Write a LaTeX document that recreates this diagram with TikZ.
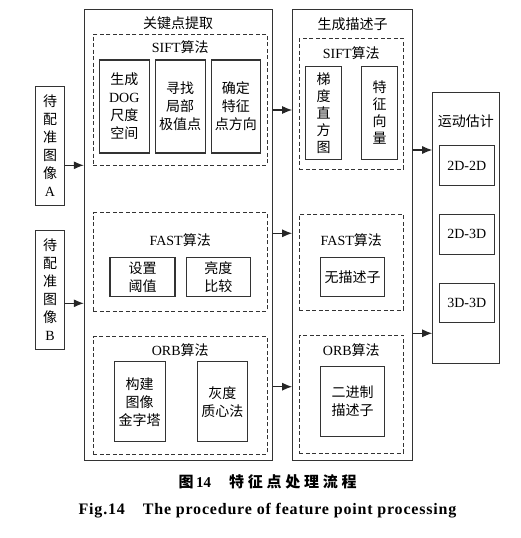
\documentclass[tikz,border=0pt]{standalone}
\usepackage{fontspec}
\setmainfont{Liberation Serif}
\newfontfamily\cjk{Noto Sans CJK SC}
\newfontfamily\cjkcap[LetterSpace=25]{Noto Sans CJK SC}
\newfontfamily\latcap[LetterSpace=5]{Liberation Serif}
\usetikzlibrary{arrows.meta, positioning, calc}

\begin{document}
\begin{tikzpicture}[x=1pt, y=-1pt, font={\fontsize{14}{18}\selectfont\cjk},
  stage/.style={draw=black!80, line width=1.1pt, inner sep=0pt},
  algo/.style={draw=black!80, line width=0.9pt, dash pattern=on 4pt off 2.5pt, inner sep=0pt},
  stepbox/.style={draw=black!80, line width=1.1pt, inner sep=0pt, align=center},
  heading/.style={inner sep=0pt},
  link/.style={draw=black!85, line width=1.1pt, -{Latex[length=10pt,width=8pt]}}]
  \useasboundingbox (0,0) rectangle (520,538);

  % input images
  \node[stepbox, minimum width=28.6, minimum height=119.7] (imgA) at (50,145.9) {待\\配\\准\\图\\像\\{\rmfamily A}};
  \node[stepbox, minimum width=28.6, minimum height=118.6] (imgB) at (50,290) {待\\配\\准\\图\\像\\{\rmfamily B}};

  % keypoint extraction
  \node[stage, minimum width=187.7, minimum height=451.4] (kp) at (178.2,235) {};
  \node[heading] (kptitle) at (178.2,23) {关键点提取};
  \node[algo, minimum width=173.7, minimum height=131] (kpsift) at (180.2,99.5) {};
  \node[heading] (kpsifttitle) at (180.2,47) {{\rmfamily SIFT}算法};
  \node[stepbox, minimum width=50, minimum height=93] (dog) at (124.3,106.5) {生成\\{\rmfamily DOG}\\尺度\\空间};
  \node[stepbox, minimum width=49.7, minimum height=93] (ext) at (180.2,106.5) {寻找\\局部\\极值点};
  \node[stepbox, minimum width=49.7, minimum height=93] (ori) at (235.9,106.5) {确定\\特征\\点方向};
  \node[algo, minimum width=173.7, minimum height=98.3] (kpfast) at (180.2,261.9) {};
  \node[heading] (kpfasttitle) at (180.2,240) {{\rmfamily FAST}算法};
  \node[stepbox, minimum width=65, minimum height=39.4] (thr) at (142.5,277) {设置\\阈值};
  \node[stepbox, minimum width=64.7, minimum height=39.4] (cmp) at (218.4,277) {亮度\\比较};
  \node[algo, minimum width=173.7, minimum height=117.3] (kporb) at (180.2,395.4) {};
  \node[heading] (kporbtitle) at (180.2,350) {{\rmfamily ORB}算法};
  \node[stepbox, minimum width=50.7, minimum height=80] (pyr) at (139.7,401.7) {构建\\图像\\金字塔};
  \node[stepbox, minimum width=50, minimum height=80] (cen) at (222.3,401.7) {灰度\\质心法};

  % descriptor generation
  \node[stage, minimum width=119.6, minimum height=451.4] (ds) at (352.5,235) {};
  \node[heading] (dstitle) at (352.5,24) {生成描述子};
  \node[algo, minimum width=104, minimum height=130.7] (dssift) at (351.3,103.7) {};
  \node[heading] (dssifttitle) at (351.3,53.3) {{\rmfamily SIFT}算法};
  \node[stepbox, minimum width=36, minimum height=93.3, font={\fontsize{14}{17}\selectfont\cjk}] (hist) at (323.7,112.7) {梯\\度\\直\\方\\图};
  \node[stepbox, minimum width=35.6, minimum height=93.3, font={\fontsize{14}{17}\selectfont\cjk}] (vec) at (379.5,112.7) {特\\征\\向\\量};
  \node[algo, minimum width=104, minimum height=96] (dsfast) at (351.3,262) {};
  \node[heading] (dsfasttitle) at (351.3,240) {{\rmfamily FAST}算法};
  \node[stepbox, minimum width=63.6, minimum height=39.4] (nodesc) at (352.5,277) {无描述子};
  \node[algo, minimum width=104, minimum height=118.3] (dsorb) at (351.3,394.2) {};
  \node[heading] (dsorbtitle) at (351.3,350) {{\rmfamily ORB}算法};
  \node[stepbox, minimum width=63.6, minimum height=70] (bin) at (352.5,401.7) {二进制\\描述子};

  % motion estimation
  \node[stage, minimum width=66.3, minimum height=270.6] (me) at (465.9,228) {};
  \node[heading] (metitle) at (465.9,121.7) {运动估计};
  \node[stepbox, minimum width=55.3, minimum height=40, font={\fontsize{14}{18}\selectfont\rmfamily}] (m22) at (466.7,165.7) {2D-2D};
  \node[stepbox, minimum width=55.3, minimum height=39.7, font={\fontsize{14}{18}\selectfont\rmfamily}] (m23) at (466.7,234.2) {2D-3D};
  \node[stepbox, minimum width=55.3, minimum height=39.4, font={\fontsize{14}{18}\selectfont\rmfamily}] (m33) at (466.7,303) {3D-3D};

  % arrows
  \draw[link] (imgA.east |- 0,165.3) -- (kp.west |- 0,165.3);
  \draw[link] (imgB.east |- 0,303.3) -- (kp.west |- 0,303.3);
  \draw[link] (kp.east |- 0,110) -- (ds.west |- 0,110);
  \draw[link] (kp.east |- 0,233.3) -- (ds.west |- 0,233.3);
  \draw[link] (kp.east |- 0,386.7) -- (ds.west |- 0,386.7);
  \draw[link] (ds.east |- 0,150) -- (me.west |- 0,150);
  \draw[link] (ds.east |- 0,333.3) -- (me.west |- 0,333.3);

  % caption
  \node[heading, font={\fontsize{15}{18}\selectfont\cjkcap\bfseries}] (capzh) at (267.5,482) {图\,{\rmfamily\bfseries 14}\hspace{18pt}特征点处理流程};
  \node[heading, font={\fontsize{16}{18}\selectfont\latcap\bfseries}] (capen) at (267.5,510.5) {Fig.14\hspace{18pt}The procedure of feature point processing};
\end{tikzpicture}
\end{document}
